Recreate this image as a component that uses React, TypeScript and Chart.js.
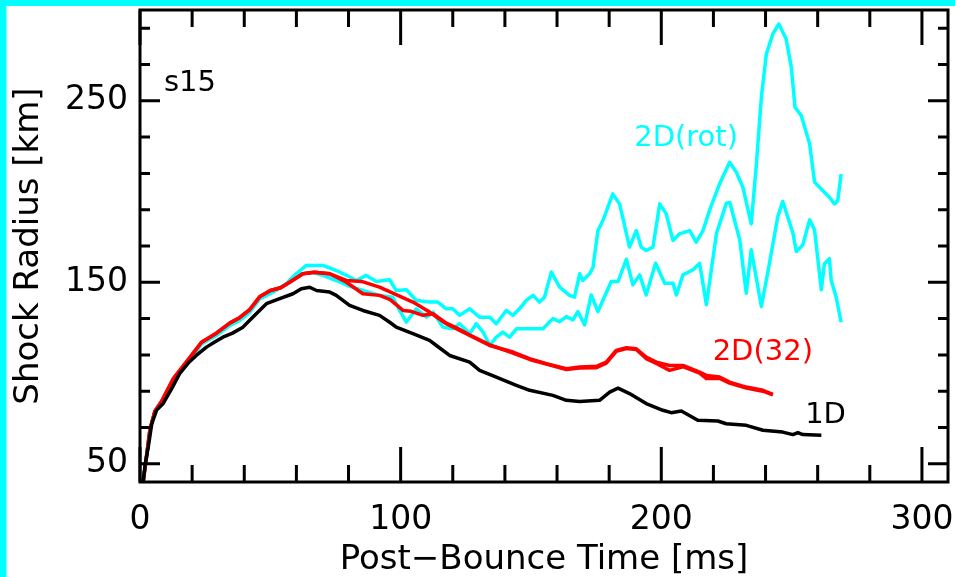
import React, { useEffect, useRef } from 'react';
import { Chart, registerables } from 'chart.js';

Chart.register(...registerables);

// ---- Data (post-bounce time [ms], shock radius [km]) ----
const T_1D = [1.2, 2, 3.2, 4.5, 6.4, 8.9, 12, 15.2, 18.5, 21.6, 25.5, 28.5, 31.8, 35.5, 39.5, 42, 44.6, 48.5, 53.6, 58.7, 61.9, 65.1, 67.7, 72.8, 75.3, 80.4, 85.5, 91.9, 95.8, 98.3, 104.7, 111.1, 113.7, 118.8, 126.5, 130.3, 136.7, 144.4, 149.5, 158.4, 163.6, 168.7, 176.3, 180.2, 183.4, 187.8, 194.2, 200.6, 203.8, 207.7, 214, 221.7, 224.9, 232.6, 239, 246.6, 250.5, 252.4, 254.3, 261.4];
const R_1D = [40, 50, 59.5, 72, 79.7, 83.3, 91, 99.7, 105.5, 109.7, 114.3, 117, 119.8, 122, 125.3, 129, 132.7, 138.2, 141, 143.7, 146.5, 147.3, 145.5, 144.6, 142.8, 137.3, 134.5, 131.8, 128, 125.3, 121.7, 118, 115.2, 109.7, 106, 101.5, 97.8, 93.2, 90.5, 87.7, 85, 84.4, 85, 89.5, 91.7, 88.7, 83.2, 79.5, 78.2, 79.1, 74, 73.6, 72.1, 71.2, 68.5, 67.5, 66.1, 67.2, 66.1, 65.7];

const T_2D32_A = [1.2, 2.5, 3.8, 5.7, 8.3, 12.8, 19.1, 23.6, 29.3, 34.4, 38.2, 42.1, 45.9, 50, 54, 57.4, 62.5, 67, 72.8, 79.2, 85, 91.9, 97, 104.7, 111.1, 117.5, 126.5, 134.2, 143.1, 149.5, 155.9, 163.6, 168.7, 175.1, 178.9, 182.7, 186.6, 190.4, 194.2, 198.1, 203.2, 208.3, 214.7, 217.3, 222.4, 226.2, 232.6, 239, 242.8];
const R_2D32_A = [40, 54, 68.7, 79, 84.5, 97, 108.5, 117, 122, 127.5, 130.5, 135, 142, 145.5, 147, 150, 154.7, 155.5, 154.7, 151, 150.5, 147.3, 144, 139.1, 133.6, 127.2, 120.8, 115.2, 111.6, 107.9, 105.2, 102.4, 103.3, 103.7, 106, 112.5, 114, 113.4, 108.8, 106, 104.2, 104.2, 100.5, 98.7, 97.8, 95, 92.3, 90.5, 88.3];

const T_2D32_B = [1.2, 2.5, 3.8, 5.7, 8.3, 12.8, 19.1, 23.6, 29.3, 34.4, 38.2, 42.1, 45.9, 50, 54, 57.4, 62.5, 67, 72.8, 79.2, 85.5, 91.9, 96, 100.9, 104, 108.6, 112.4, 117.5, 122, 126.5, 134.2, 143.1, 149.5, 155.9, 163.6, 168.7, 175.1, 178.9, 182.7, 186.6, 190.4, 194.2, 198.1, 203.2, 208.3, 214.7, 217.3, 222.4, 226.2, 232.6, 239, 242.8];
const R_2D32_B = [40, 54, 68.7, 79, 84.5, 97, 108.5, 117, 122, 127.5, 130.5, 135, 142, 145.5, 147, 150, 154.7, 155.5, 154.7, 150, 143.7, 142.8, 140.5, 134.5, 134, 131.8, 132.7, 127.5, 124.5, 121, 115.5, 111, 107.5, 105, 102, 102.8, 103, 105.5, 112, 113.5, 113, 108, 105.3, 101.5, 103.5, 100, 97, 97, 94.5, 91.8, 90, 88];

const T_ROT_A = [1.2, 2.5, 3.8, 5.7, 8.3, 12.8, 19.1, 23.6, 29.3, 34.4, 38.2, 42.1, 45.9, 51, 56.2, 60, 63.8, 70.2, 75.3, 79, 83, 86.8, 90.7, 95.8, 98.3, 102.2, 106, 111.1, 114.3, 117.5, 120, 122.6, 126.5, 130.3, 134.2, 136.7, 140.5, 143.1, 145.6, 148.2, 150.8, 153.3, 155.2, 157.8, 161, 164.8, 166.7, 168.7, 169.9, 172.5, 173.8, 175.7, 177.6, 181.4, 184, 187.8, 190.4, 192.3, 194.2, 196.8, 199.4, 201.9, 204.5, 207, 210.9, 213.4, 216, 218.5, 222.4, 226.2, 228.8, 231.3, 234.5, 236.4, 238.4, 240.3, 242.8, 245.1, 247.9, 249.9, 251.3, 253.7, 256.9, 258.8, 260.7, 262.6, 264.5, 266.4, 267.7, 269];
const R_ROT_A = [40, 54, 68.7, 78.8, 83.3, 96, 107, 116.2, 120.8, 126.3, 129, 133.6, 141, 144.6, 149.2, 154.7, 159.3, 159.3, 156.5, 154, 151, 153.8, 150.5, 151.4, 145.5, 145.9, 140, 139.1, 139.1, 135.4, 135.4, 131.8, 135.4, 130.8, 130.8, 127.2, 134.5, 131.8, 135.4, 140, 142.8, 139.1, 141.8, 155.6, 147.3, 142.8, 141.8, 154.7, 151, 154.7, 158.3, 178.5, 184, 198.7, 193.2, 169.4, 178.5, 169.4, 167.5, 169.4, 193.2, 187.7, 173, 176.7, 178.5, 172.1, 178.5, 189.6, 204.3, 216.1, 210.6, 202.4, 182.2, 213.4, 251.9, 275.8, 286.8, 292.3, 284, 268.4, 246.4, 241.9, 226.3, 205.2, 202.4, 199.6, 196.9, 193.2, 195, 209.7];

const T_ROT_B = [1.2, 2.5, 3.8, 5.7, 8.3, 12.8, 19.1, 23.6, 29.3, 34.4, 38.2, 42.1, 45.9, 51, 56.2, 60, 62.5, 66, 70.2, 75.3, 80, 85.5, 91.9, 97, 99.6, 102.2, 106, 109.9, 112.4, 116.2, 120, 122.6, 126.5, 129, 131.6, 134.2, 136.7, 139.2, 141.8, 144.4, 149.5, 154.6, 158.4, 161, 163.6, 166.1, 168, 170.6, 173.1, 175.7, 180.8, 183.4, 186.6, 189.1, 191.7, 194.2, 197.8, 201.3, 204.5, 205.8, 208.3, 212.2, 214.7, 217.3, 221.2, 225, 226.3, 230.1, 232.6, 234.5, 238.4, 241.5, 244.7, 246.6, 250.5, 251.8, 254.3, 256.9, 258.8, 261.4, 262.6, 264.5, 265.2, 267.1, 269];
const R_ROT_B = [40, 54, 68.7, 78.8, 83.3, 96, 107, 116.2, 120.8, 126.3, 129, 133.6, 141, 144.6, 149.2, 154.7, 154.7, 155.5, 153.8, 151, 148, 145.5, 142.8, 141.8, 134.5, 128.1, 135.4, 130.8, 133.6, 125.3, 124.4, 127.2, 121.7, 127.2, 122.6, 115.2, 119.8, 122.6, 119.8, 124.4, 124.4, 124.4, 130, 128.3, 131.1, 129.3, 133.9, 126.5, 143, 133.9, 150.4, 150.4, 162.7, 148.6, 154.1, 143, 160.5, 149.5, 149.5, 143, 154.1, 156.9, 160.5, 137.6, 177.1, 193.6, 194, 173.4, 144, 167.9, 136.7, 160.5, 186.2, 194.5, 177.1, 167, 170.6, 184.4, 178.9, 145.9, 160.2, 163, 151, 141.8, 128];

// ---- Axes ----
const X_MIN = 0;
const X_MAX = 310;
const Y_MIN = 40;
const Y_MAX = 300;
const X_MAJOR = [0, 100, 200, 300];
const X_MINOR = [20, 40, 60, 80, 120, 140, 160, 180, 220, 240, 260, 280];
const Y_MAJOR = [50, 150, 250];
const Y_MINOR = [70, 90, 110, 130, 170, 190, 210, 230, 270, 290];

const X_TITLE = 'Post\u2212Bounce Time [ms]';
const Y_TITLE = 'Shock Radius [km]';

// in-plot labels (data coordinates)
const NOTE_TEXT = ['s15', '2D(rot)', '2D(32)', '1D'];
const NOTE_X = [9.2, 189.6, 219.7, 255.2];
const NOTE_Y = [255.5, 225.1, 107.3, 72.4];
const NOTE_COLOR = ['#000000', '#00FFFF', '#FF0000', '#000000'];

const FONT = 'DejaVu Sans';
const CYAN = '#00FFFF';
const RED = '#FF0000';
const BLACK = '#000000';

const pts = (t: number[], r: number[]) => t.map((x, i) => ({ x, y: r[i] }));

const framePlugin = {
  id: 'idlFrame',
  beforeDraw(chart: any) {
    const { ctx, width, height } = chart;
    ctx.save();
    ctx.fillStyle = '#ffffff';
    ctx.fillRect(0, 0, width, height);
    ctx.fillStyle = CYAN;
    ctx.fillRect(0, 0, 6.5, height);
    ctx.fillRect(0, 0, width, 6);
    ctx.restore();
  },
  afterDatasetsDraw(chart: any) {
    const { ctx, chartArea } = chart;
    const { left, right, top, bottom } = chartArea;
    const xs = chart.scales.x;
    const ys = chart.scales.y;
    ctx.save();
    ctx.strokeStyle = BLACK;
    ctx.lineWidth = 3;
    ctx.lineCap = 'butt';
    ctx.beginPath();
    const tickX = (v: number, len: number) => {
      const p = xs.getPixelForValue(v);
      ctx.moveTo(p, bottom);
      ctx.lineTo(p, bottom - len);
      ctx.moveTo(p, top);
      ctx.lineTo(p, top + len);
    };
    const tickY = (v: number, len: number) => {
      const p = ys.getPixelForValue(v);
      ctx.moveTo(left, p);
      ctx.lineTo(left + len, p);
      ctx.moveTo(right, p);
      ctx.lineTo(right - len, p);
    };
    X_MAJOR.forEach((v) => tickX(v, 35));
    X_MINOR.forEach((v) => tickX(v, 17));
    Y_MAJOR.forEach((v) => tickY(v, 20));
    Y_MINOR.forEach((v) => tickY(v, 10));
    ctx.stroke();
    ctx.strokeRect(left, top, right - left, bottom - top);

    ctx.font = `29px "${FONT}"`;
    ctx.textAlign = 'left';
    ctx.textBaseline = 'alphabetic';
    NOTE_TEXT.forEach((txt, i) => {
      ctx.fillStyle = NOTE_COLOR[i];
      ctx.fillText(txt, xs.getPixelForValue(NOTE_X[i]), ys.getPixelForValue(NOTE_Y[i]));
    });
    ctx.restore();
  },
};

export default function App() {
  const ref = useRef<HTMLCanvasElement | null>(null);

  useEffect(() => {
    if (!ref.current) return;
    const line = (data: any, color: string) => ({
      data,
      borderColor: color,
      backgroundColor: color,
      borderWidth: 3.5,
      borderJoinStyle: 'round',
      pointRadius: 0,
      tension: 0,
      fill: false,
    });
    const chart = new Chart(ref.current, {
      type: 'line',
      data: {
        datasets: [
          { label: '1D', ...line(pts(T_1D, R_1D), BLACK) },
          { label: '2D(32) a', ...line(pts(T_2D32_A, R_2D32_A), RED) },
          { label: '2D(32) b', ...line(pts(T_2D32_B, R_2D32_B), RED) },
          { label: '2D(rot) a', ...line(pts(T_ROT_A, R_ROT_A), CYAN) },
          { label: '2D(rot) b', ...line(pts(T_ROT_B, R_ROT_B), CYAN) },
        ],
      },
      options: {
        animation: false,
        responsive: false,
        maintainAspectRatio: false,
        layout: { padding: { left: 0, top: 10, right: 7, bottom: 0 } },
        plugins: { legend: { display: false }, tooltip: { enabled: false } },
        scales: {
          x: {
            type: 'linear',
            position: 'bottom',
            min: X_MIN,
            max: X_MAX,
            afterBuildTicks: (s: any) => {
              s.ticks = X_MAJOR.map((v) => ({ value: v }));
            },
            afterFit: (s: any) => {
              s.height = 95;
              s.paddingLeft = 0;
              s.paddingRight = 0;
            },
            ticks: {
              autoSkip: false,
              maxRotation: 0,
              padding: 22,
              color: BLACK,
              font: { family: FONT, size: 33, lineHeight: 1 },
            },
            grid: { display: false, drawTicks: false },
            border: { display: false },
            title: {
              display: true,
              text: X_TITLE,
              color: BLACK,
              font: { family: FONT, size: 34, lineHeight: 1 },
              padding: { top: 0, bottom: 0 },
            },
          },
          y: {
            type: 'linear',
            position: 'left',
            min: Y_MIN,
            max: Y_MAX,
            afterBuildTicks: (s: any) => {
              s.ticks = Y_MAJOR.map((v) => ({ value: v }));
            },
            afterFit: (s: any) => {
              s.width = 140;
              s.paddingTop = 0;
              s.paddingBottom = 0;
            },
            ticks: {
              autoSkip: false,
              padding: 12,
              color: BLACK,
              font: { family: FONT, size: 33, lineHeight: 1 },
            },
            grid: { display: false, drawTicks: false },
            border: { display: false },
            title: {
              display: true,
              text: Y_TITLE,
              color: BLACK,
              font: { family: FONT, size: 34, lineHeight: 1 },
              padding: { top: 12, bottom: 0 },
            },
          },
        },
      },
      plugins: [framePlugin],
    } as any);
    return () => chart.destroy();
  }, []);

  return (
    <div style={{ position: 'fixed', left: 0, top: 0, width: 955, height: 577 }}>
      <canvas ref={ref} width={955} height={577} style={{ display: 'block', width: 955, height: 577 }} />
    </div>
  );
}
